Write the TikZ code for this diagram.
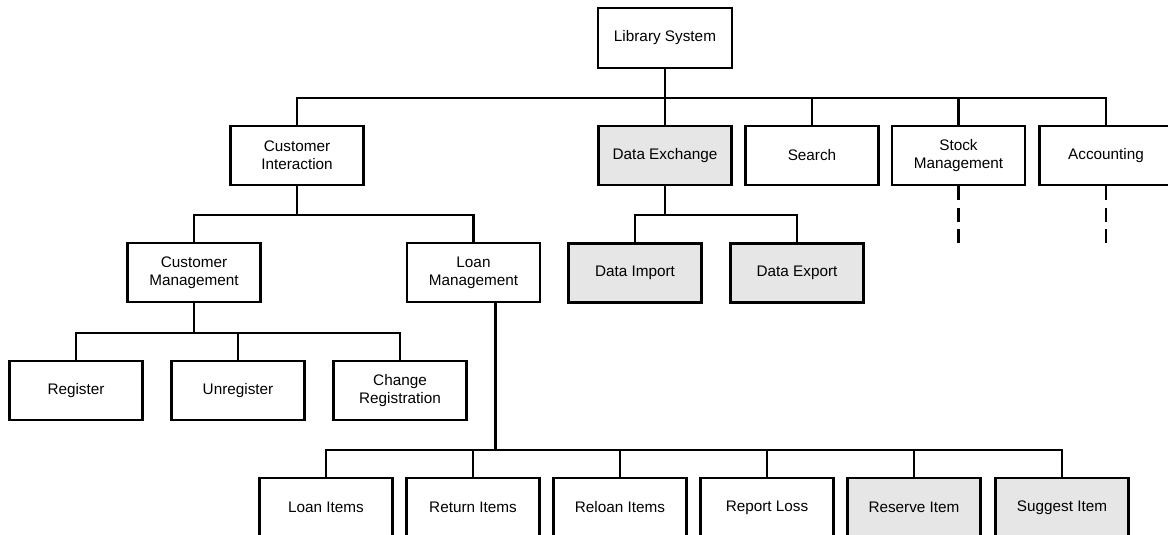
\documentclass[tikz,border=0pt]{standalone}
\usepackage{fontspec}
\setmainfont{Liberation Sans}
\definecolor{shade}{HTML}{E6E6E6}
\begin{document}
\begin{tikzpicture}[x=1pt,y=-1pt,
  box/.style={draw,line width=2.2pt,rectangle,minimum width=133pt,minimum height=59pt,
    inner sep=0pt,align=center,fill=white,
    font=\fontsize{15.3}{18.3}\selectfont},
  grey/.style={box,fill=shade},
  link/.style={line width=2.2pt},
  open/.style={line width=2.4pt,dash pattern=on 14pt off 7.5pt}]
\clip (0,0) rectangle (1168,535);

% root
\node[box,minimum width=134pt,minimum height=60pt] (lib) at (665,38) {Library System};

% first level
\node[box]  (ci)  at (297,155.5)  {Customer\\Interaction};
\node[grey] (de)  at (665,155.5)  {Data Exchange};
\node[box]  (se)  at (812,155.5)  {Search};
\node[box]  (st)  at (958.5,155.5){Stock\\Management};
\node[box]  (acc) at (1106,155.5) {Accounting};

% second level
\node[box]  (cm) at (194,272.5)   {Customer\\Management};
\node[box]  (lm) at (473.5,272.5) {Loan\\Management};
\node[grey] (di) at (635,273)     {Data Import};
\node[grey] (dx) at (797,273)     {Data Export};

% customer management tasks
\node[box] (reg)   at (76,390.5)  {Register};
\node[box] (unreg) at (238,390.5) {Unregister};
\node[box] (chg)   at (400,390.5) {Change\\Registration};

% loan management tasks
\node[box]  (li) at (326,507.5) {Loan Items};
\node[box]  (ri) at (473,507.5) {Return Items};
\node[box]  (rl) at (620,507.5) {Reloan Items};
\node[box]  (rp) at (767,507.5) {Report Loss};
\node[grey] (rs) at (914,507.5) {Reserve Item};
\node[grey] (sg) at (1062,507.5){Suggest Item};

% connectors below the root
\draw[link] (lib.south) -- ++(0,29) coordinate (b1);
\draw[link] (ci.north) |- (b1) -| (acc.north);
\draw[link] (de.north) -- (de.north |- b1);
\draw[link] (se.north) -- (se.north |- b1);
\draw[link] (st.north) -- (st.north |- b1);

% customer interaction
\draw[link] (ci.south) -- ++(0,29) coordinate (b2);
\draw[link] (cm.north) |- (b2) -| (lm.north);

% data exchange
\draw[link] (de.south) -- ++(0,29) coordinate (b3);
\draw[link] (di.north) |- (b3) -| (dx.north);

% customer management
\draw[link] (cm.south) -- ++(0,30) coordinate (b4);
\draw[link] (reg.north) |- (b4) -| (chg.north);
\draw[link] (unreg.north) -- (unreg.north |- b4);

% loan management
\draw[link] ([xshift=22pt]lm.south) -- ++(0,147) coordinate (b5);
\draw[link] (li.north) |- (b5) -| (sg.north);
\foreach \n in {ri,rl,rp,rs}
  \draw[link] (\n.north) -- (\n.north |- b5);

% unexpanded branches
\draw[open] (st.south) -- ++(0,58);
\draw[open] (acc.south) -- ++(0,58);
\end{tikzpicture}
\end{document}
